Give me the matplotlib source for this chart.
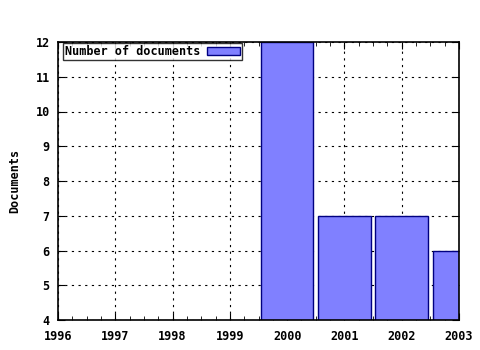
import matplotlib
matplotlib.use('Agg')
import matplotlib.pyplot as plt
from matplotlib.ticker import MultipleLocator

years = [2000, 2001, 2002, 2003]
documents = [12, 7, 7, 6]
year_ticks = [1996, 1997, 1998, 1999, 2000, 2001, 2002, 2003]
doc_ticks = [4, 5, 6, 7, 8, 9, 10, 11, 12]

plt.rcParams['font.family'] = 'DejaVu Sans Mono'
plt.rcParams['font.weight'] = 'bold'
plt.rcParams['font.size'] = 8.5

fig = plt.figure(figsize=(4.8, 3.5), dpi=100)
ax = fig.add_axes([58 / 480, 1 - 320 / 350, 401 / 480, 278 / 350])

ax.bar(years, documents, width=0.92, bottom=0, color='#8080ff',
       edgecolor='#000080', linewidth=1, label='Number of documents', zorder=2)

ax.set_xlim(1996, 2003)
ax.set_ylim(4, 12)
ax.set_xticks(year_ticks)
ax.set_yticks(doc_ticks)
ax.xaxis.set_minor_locator(MultipleLocator(0.25))
ax.tick_params(which='both', direction='in', top=True, right=True, labelsize=8.5)
ax.tick_params(which='major', length=5)
ax.tick_params(which='minor', length=3)
ax.tick_params(axis='x', which='major', pad=7)
ax.tick_params(axis='y', which='major', pad=6)
ax.grid(True, which='major', color='black', linestyle=(0, (2, 4)), linewidth=0.8, zorder=1)
ax.set_axisbelow(True)
for s in ax.spines.values():
    s.set_linewidth(1.2)
    s.set_zorder(5)

ax.set_ylabel('Documents', fontsize=8.5, fontweight='bold', labelpad=10)

leg = ax.legend(loc='upper left', bbox_to_anchor=(0.01, 1.0), frameon=True, fancybox=False,
                borderpad=0.15, handlelength=2.8, handleheight=0.6, handletextpad=0.6,
                borderaxespad=0.1, prop={'family': 'DejaVu Sans Mono', 'weight': 'bold', 'size': 8.5},
                markerfirst=False)
leg.get_frame().set_edgecolor('black')
leg.get_frame().set_linewidth(1)

fig.savefig('out.png', dpi=100)
